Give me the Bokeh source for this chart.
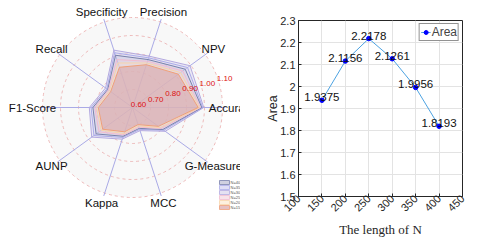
import math
from bokeh.plotting import figure
from bokeh.layouts import row
from bokeh.models import Range1d, FixedTicker, ColumnDataSource
from bokeh.core.properties import value
from bokeh.embed import file_html
from bokeh.resources import INLINE

# ---------------- data ----------------
metrics = ["Accuracy", "NPV", "Precision", "Specificity", "Recall",
           "F1-Score", "AUNP", "Kappa", "MCC", "G-Measure"]
legend_labels = ["N=400", "N=350", "N=300", "N=250", "N=200", "N=150"]
s_400 = [0.985, 0.962, 0.880, 0.905, 0.770, 0.820, 0.850, 0.768, 0.722, 0.808]
s_350 = [0.990, 0.978, 0.890, 0.920, 0.776, 0.830, 0.865, 0.775, 0.728, 0.815]
s_300 = [0.996, 0.995, 0.900, 0.935, 0.785, 0.840, 0.880, 0.785, 0.735, 0.825]
s_250 = [0.978, 0.945, 0.870, 0.880, 0.765, 0.810, 0.830, 0.760, 0.715, 0.798]
s_200 = [0.972, 0.930, 0.860, 0.860, 0.758, 0.800, 0.815, 0.752, 0.708, 0.790]
s_150 = [0.965, 0.915, 0.850, 0.835, 0.750, 0.790, 0.805, 0.742, 0.700, 0.778]
ring_values = [0.60, 0.70, 0.80, 0.90, 1.00, 1.10]
ring_labels = ["0.60", "0.70", "0.80", "0.90", "1.00", "1.10"]

n_length = [150, 200, 250, 300, 350, 400]
area = [1.9375, 2.1156, 2.2178, 2.1261, 1.9956, 1.8193]
area_labels = ["1.9375", "2.1156", "2.2178", "2.1261", "1.9956", "1.8193"]
x_ticks = [100, 150, 200, 250, 300, 350, 400, 450]
y_ticks = [1.5, 1.6, 1.7, 1.8, 1.9, 2.0, 2.1, 2.2, 2.3]
y_tick_labels = ["1.5", "1.6", "1.7", "1.8", "1.9", "2", "2.1", "2.2", "2.3"]

# ---------------- styles ----------------
series = [s_400, s_350, s_300, s_250, s_200, s_150]
line_cols = ["#7a82ac", "#acacea", "#b4aae0", "#f2bccf", "#f8d4aa", "#f0a078"]
fill_cols = ["#b0b2cc", "#cccaf0", "#d4cdea", "#f4d0dc", "#fce6c8", "#d4969a"]
fill_alpha = [0.22, 0.22, 0.35, 0.25, 0.25, 0.45]
draw_order = [2, 1, 0, 3, 4, 5]
FONT = "Liberation Sans"

R0, RMAX = 0.6, 1.1
SCALE = 90.0 / (RMAX - R0)


def rad(v):
    return (v - R0) * SCALE


angles = [math.radians(36 * i) for i in range(len(metrics))]

# ---------------- radar ----------------
p1 = figure(width=240, height=240, x_range=Range1d(-132, 108), y_range=Range1d(-133, 107),
            min_border=0, output_backend="svg", toolbar_location=None)
p1.frame_align = False
p1.axis.visible = False
p1.grid.visible = False
p1.outline_line_color = None

p1.circle(x=[0], y=[0], radius=rad(RMAX), fill_color="#f8f8f8", line_color=None)
for rv in ring_values[1:]:
    p1.circle(x=[0], y=[0], radius=rad(rv), fill_color=None, line_color="#eaaaaa",
              line_dash="3 3", line_width=0.8)

axis_r = rad(RMAX) + 3
p1.segment(x0=[0] * len(angles), y0=[0] * len(angles),
           x1=[axis_r * math.cos(a) for a in angles], y1=[axis_r * math.sin(a) for a in angles],
           line_color="#aaaae6", line_width=1)

for i in draw_order:
    vals = series[i]
    xs = [rad(v) * math.cos(a) for v, a in zip(vals, angles)]
    ys = [rad(v) * math.sin(a) for v, a in zip(vals, angles)]
    p1.patch(xs + [xs[0]], ys + [ys[0]], fill_color=fill_cols[i], fill_alpha=fill_alpha[i],
             line_color=line_cols[i], line_width=1)

lab_r = 100
p1.text(x=[lab_r * math.cos(a) for a in angles], y=[lab_r * math.sin(a) for a in angles],
        text=metrics, text_align="center", text_baseline="middle",
        text_font=value(FONT), text_font_size="11.5px", text_color="#111111")

ra = math.radians(17)
p1.text(x=[rad(v) * math.cos(ra) + 6 for v in ring_values],
        y=[rad(v) * math.sin(ra) + 3 for v in ring_values],
        text=ring_labels, text_align="center", text_baseline="middle",
        text_font=value(FONT), text_font_size="8px", text_color="#dd1111")

# small legend
lx = [92] * len(legend_labels)
ly = [-75 - 5 * k for k in range(len(legend_labels))]
p1.rect(x=lx, y=ly, width=10, height=4, fill_color=fill_cols, fill_alpha=0.6,
        line_color=line_cols, line_width=0.8)
p1.text(x=[98] * len(legend_labels), y=ly, text=legend_labels, text_align="left",
        text_baseline="middle", text_font=value(FONT), text_font_size="4px", text_color="#555555")

# ---------------- line chart ----------------
p2 = figure(width=236, height=240, x_range=Range1d(100, 450), y_range=Range1d(1.5, 2.3),
            min_border_left=58, min_border_right=14, min_border_top=20, min_border_bottom=44,
            output_backend="svg", toolbar_location=None)
p2.frame_align = False
p2.outline_line_color = "#262626"
p2.outline_line_width = 1
for ax in (p2.xaxis, p2.yaxis):
    ax.axis_line_color = "#262626"
    ax.major_tick_line_color = "#262626"
    ax.major_tick_in = 3
    ax.major_tick_out = 0
    ax.minor_tick_line_color = None
    ax.major_label_text_font = FONT
    ax.major_label_text_font_size = "11px"
    ax.major_label_text_color = "#262626"
    ax.axis_label_text_font_style = "normal"
    ax.axis_label_text_color = "#262626"
p2.xaxis.ticker = FixedTicker(ticks=x_ticks)
p2.yaxis.ticker = FixedTicker(ticks=y_ticks)
p2.yaxis.major_label_overrides = {t: l for t, l in zip(y_ticks, y_tick_labels)}
p2.xaxis.major_label_orientation = math.pi / 4
p2.xaxis.major_label_standoff = 0
p2.yaxis.major_label_standoff = 3
p2.xaxis.axis_label = "The length of N"
p2.xaxis.axis_label_text_font = "Liberation Serif"
p2.xaxis.axis_label_text_font_size = "13px"
p2.xaxis.axis_label_standoff = 4
p2.yaxis.axis_label = "Area"
p2.yaxis.axis_label_text_font = FONT
p2.yaxis.axis_label_text_font_size = "12.5px"
p2.yaxis.axis_label_standoff = -3
p2.grid.grid_line_color = "#e3e3e3"

src = ColumnDataSource(dict(x=n_length, y=area, t=area_labels))
p2.line("x", "y", source=src, line_color="#4da3e2", line_width=1, legend_label="Area")
p2.scatter("x", "y", source=src, size=4.5, fill_color="#0000ff", line_color="#0000ff",
           legend_label="Area")
p2.text("x", "y", text="t", source=src, text_align="center", text_baseline="alphabetic",
        y_offset=-3, text_font=value(FONT), text_font_size="11.5px", text_color="#111111")

p2.legend.location = "top_right"
p2.legend.border_line_color = "#262626"
p2.legend.border_line_width = 1
p2.legend.label_text_font = FONT
p2.legend.label_text_font_size = "12px"
p2.legend.glyph_width = 10
p2.legend.glyph_height = 10
p2.legend.padding = 1
p2.legend.margin = 3
p2.legend.spacing = 0
p2.legend.label_standoff = 1
p2.legend.label_width = 0
p2.legend.label_height = 10

layout = row(p1, p2)
open("out.html", "w").write(file_html(layout, INLINE))
